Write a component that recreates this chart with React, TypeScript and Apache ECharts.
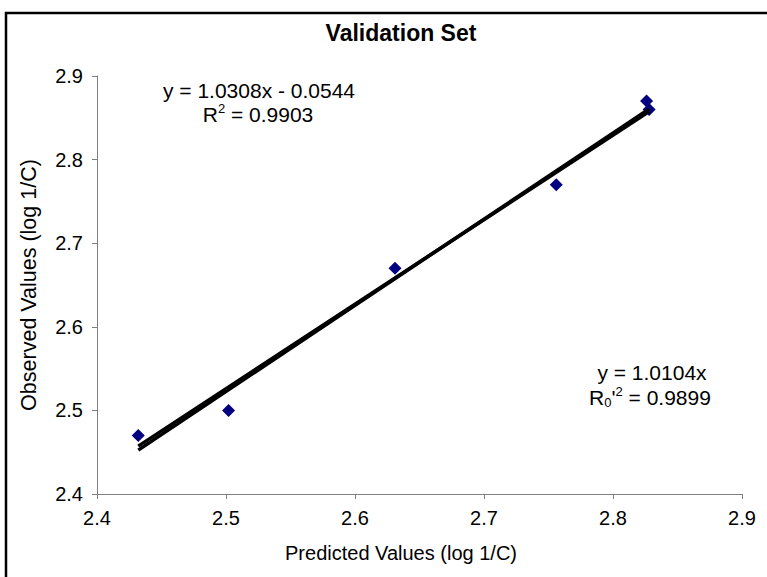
import React, { useEffect, useRef } from "react";
import * as echarts from "echarts";

// Data
const predicted = [2.432, 2.502, 2.631, 2.756, 2.826, 2.828];
const observed = [2.47, 2.5, 2.67, 2.77, 2.87, 2.86];

// Trendline end points (from the equations shown on the chart)
const trendX = [2.432, 2.828];
const fitY = [2.4525, 2.8607]; // y = 1.0308x - 0.0544
const originY = [2.4573, 2.8574]; // y = 1.0104x

const axisMin = 2.4;
const axisMax = 2.9;
const axisStep = 0.1;

const titleText = "Validation Set";
const xName = "Predicted Values (log 1/C)";
const yName = "Observed Values (log 1/C)";
const eq1 = "y = 1.0308x - 0.0544";
const r1 = "0.9903";
const eq2 = "y = 1.0104x";
const r2 = "0.9899";

const FONT = "'Liberation Sans', Arial, sans-serif";

export default function App() {
  const ref = useRef<HTMLDivElement>(null);
  useEffect(() => {
    if (!ref.current) return;
    const chart = echarts.init(ref.current, undefined, { renderer: "svg" });
    const scatterData = predicted.map((x, i) => [x, observed[i]]);
    const fitData = trendX.map((x, i) => [x, fitY[i]]);
    const originData = trendX.map((x, i) => [x, originY[i]]);
    const axisCommon = {
      type: "value" as const,
      min: axisMin,
      max: axisMax,
      interval: axisStep,
      axisLine: { show: true, lineStyle: { color: "#808080", width: 1 } },
      axisTick: { show: true, inside: false, length: 5, lineStyle: { color: "#808080" } },
      splitLine: { show: false },
      axisLabel: {
        fontFamily: FONT,
        fontSize: 20,
        color: "#000",
        margin: 14,
        formatter: (v: number) => v.toFixed(1),
      },
    };
    chart.setOption({
      animation: false,
      backgroundColor: "#fff",
      grid: { left: 97, right: 25, top: 76, bottom: 83, containLabel: false },
      xAxis: {
        ...axisCommon,
      },
      yAxis: {
        ...axisCommon,
        name: yName,
        nameLocation: "middle",
        nameGap: 57,
        nameTextStyle: { fontFamily: FONT, fontSize: 21.5, color: "#000" },
      },
      series: [
        {
          type: "scatter",
          data: scatterData,
          symbol: "diamond",
          symbolSize: 13,
          itemStyle: { color: "#000080", opacity: 1 },
          z: 2,
        },
        {
          type: "line",
          data: fitData,
          showSymbol: false,
          symbol: "none",
          lineStyle: { color: "#000", width: 3.5 },
          z: 3,
        },
        {
          type: "line",
          data: originData,
          showSymbol: false,
          symbol: "none",
          lineStyle: { color: "#000", width: 3.5 },
          z: 3,
        },
      ],
      graphic: [
        {
          type: "rect",
          shape: { x: 6, y: 13, width: 900, height: 700 },
          style: { fill: "none", stroke: "#000", lineWidth: 2.5 },
          silent: true,
        },
        {
          type: "text",
          x: 401,
          y: 33,
          style: {
            text: titleText,
            font: `bold 23px ${FONT}`,
            fill: "#000",
            align: "center",
            verticalAlign: "middle",
          },
        },
        {
          type: "text",
          x: 401,
          y: 553,
          style: {
            text: xName,
            font: `20px ${FONT}`,
            fill: "#000",
            align: "center",
            verticalAlign: "middle",
          },
        },
        {
          type: "text",
          x: 259,
          y: 90,
          style: {
            text: eq1,
            font: `21px ${FONT}`,
            fill: "#000",
            align: "center",
            verticalAlign: "middle",
          },
        },
        {
          type: "text",
          x: 258,
          y: 114,
          style: {
            text: `{a|R}{s|2}{a| = ${r1}}`,
            align: "center",
            verticalAlign: "middle",
            rich: {
              a: { fontFamily: FONT, fontSize: 21, lineHeight: 24, fill: "#000" },
              s: { fontFamily: FONT, fontSize: 13, lineHeight: 13, verticalAlign: "top", fill: "#000" },
            },
          },
        },
        {
          type: "text",
          x: 652,
          y: 372,
          style: {
            text: eq2,
            font: `21px ${FONT}`,
            fill: "#000",
            align: "center",
            verticalAlign: "middle",
          },
        },
        {
          type: "text",
          x: 650,
          y: 397,
          style: {
            text: `{a|R}{b|0}{a|'}{s|2}{a| = ${r2}}`,
            align: "center",
            verticalAlign: "middle",
            rich: {
              a: { fontFamily: FONT, fontSize: 21, lineHeight: 24, fill: "#000" },
              b: { fontFamily: FONT, fontSize: 13, lineHeight: 13, verticalAlign: "bottom", fill: "#000" },
              s: { fontFamily: FONT, fontSize: 13, lineHeight: 13, verticalAlign: "top", fill: "#000" },
            },
          },
        },
      ],
    });
    return () => chart.dispose();
  }, []);
  return (
    <div
      ref={ref}
      style={{ position: "fixed", left: 0, top: 0, width: 767, height: 577 }}
    />
  );
}
